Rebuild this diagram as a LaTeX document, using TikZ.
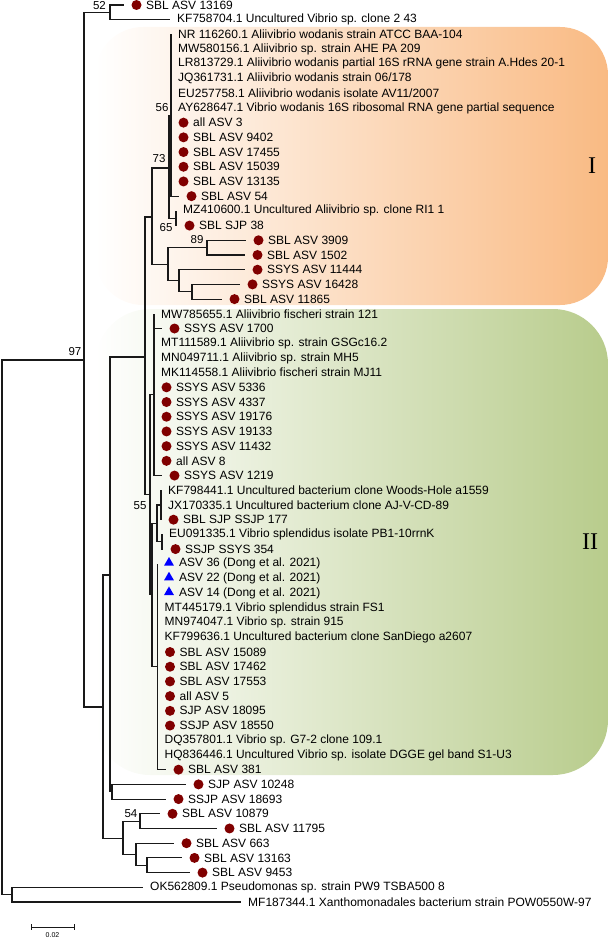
\documentclass[tikz,border=0pt]{standalone}
\usepackage{fontspec}
\setmainfont{Liberation Sans}
\newfontfamily\romfont{Liberation Serif}
\usetikzlibrary{shapes.geometric}
\definecolor{dotred}{RGB}{128,0,0}
\definecolor{orgR}{RGB}{249,186,131}
\definecolor{grnR}{RGB}{184,204,140}
\definecolor{triblue}{RGB}{0,0,255}
\definecolor{brc}{RGB}{25,25,25}
\newcommand\labfont{\fontsize{12}{13}\selectfont}
\newcommand\bsfont{\fontsize{11.5}{12}\selectfont}
\newcommand\cladefont{\romfont\fontsize{24}{26}\selectfont}
\newcommand\leafT[4]{\coordinate (#1) at ({#2},{ry(#3)}); \node[lt] (#1t) at ([xshift=7pt]#1) {#4};}
\newcommand\leafD[4]{\coordinate (#1) at ({#2},{ry(#3)}); \node[dotn] (#1d) at ([xshift=12.5pt]#1) {}; \node[lt] (#1t) at ([xshift=22pt]#1) {#4};}
\newcommand\leafA[4]{\coordinate (#1) at ({#2},{ry(#3)}); \node[trin] (#1d) at ([xshift=11.5pt,yshift=1pt]#1) {}; \node[lt] (#1t) at ([xshift=21.5pt]#1) {#4};}
\begin{document}
\begin{tikzpicture}[x=1pt,y=-1pt,
  declare function={ry(\i)=5+14.705*(\i-1);},
  br/.style={draw=brc,line width=1.15pt},
  lt/.style={anchor=west,inner sep=0pt,font=\labfont,text=black},
  dotn/.style={circle,fill=dotred,minimum size=10pt,inner sep=0pt},
  trin/.style={regular polygon,regular polygon sides=3,fill=triblue,minimum size=11.5pt,inner sep=0pt},
  bs/.style={font=\bsfont,inner sep=0pt},
  clab/.style={font=\cladefont,inner sep=0pt}]
\useasboundingbox (0,0) rectangle (608,942);
% clade highlight boxes
\shade[left color=white,right color=orgR,rounded corners=48pt] (95,27) rectangle (608,305);
\shade[left color=white,right color=grnR,rounded corners=55pt] (95,309) rectangle (608,775);
\node[clab] (cI) at (592,166) {I};
\node[clab] (cII) at (590,542) {II};
% internal nodes
\coordinate (nR0) at (2,627);
\coordinate (nA) at (84,360);
\coordinate (nB) at (110,12.4);
\coordinate (nC) at (103,707);
\coordinate (nD) at (110,575);
\coordinate (nF) at (145,357);
\coordinate (nK) at (152,217);
\coordinate (nL) at (169,168);
\coordinate (nN) at (171,115.3);
\coordinate (nO) at (176,218.3);
\coordinate (nM) at (168,264.5);
\coordinate (nP) at (207,247.7);
\coordinate (nQ) at (179,280.8);
\coordinate (nR) at (192,291.8);
\coordinate (nS) at (150,494.8);
\coordinate (nT) at (154,394.7);
\coordinate (nV) at (152,594.8);
\coordinate (nW) at (157,523.1);
\coordinate (nX) at (161,505);
\coordinate (nY) at (162,541.8);
\coordinate (nZ) at (157.5,666.7);
\coordinate (nG) at (112,791.8);
\coordinate (nE) at (123,838.5);
\coordinate (nH) at (140,821.2);
\coordinate (nI) at (136,854.3);
\coordinate (nJ) at (147,865.3);
\coordinate (nOG) at (12,894.6);
% leaves
\leafD{l1}{124}{1}{SBL ASV 13169}
\leafT{l2}{170}{2}{KF758704.1 Uncultured Vibrio sp. clone 2 43}
\leafT{l3}{171}{3}{NR 116260.1 Aliivibrio wodanis strain ATCC BAA-104}
\leafT{l4}{171}{4}{MW580156.1 Aliivibrio sp. strain AHE PA 209}
\leafT{l5}{171}{5}{LR813729.1 Aliivibrio wodanis partial 16S rRNA gene strain A.Hdes 20-1}
\leafT{l6}{171}{6}{JQ361731.1 Aliivibrio wodanis strain 06/178}
\leafT{l7}{171}{7}{EU257758.1 Aliivibrio wodanis isolate AV11/2007}
\leafT{l8}{171}{8}{AY628647.1 Vibrio wodanis 16S ribosomal RNA gene partial sequence}
\leafD{l9}{171}{9}{all ASV 3}
\leafD{l10}{171}{10}{SBL ASV 9402}
\leafD{l11}{171}{11}{SBL ASV 17455}
\leafD{l12}{171}{12}{SBL ASV 15039}
\leafD{l13}{171}{13}{SBL ASV 13135}
\leafD{l14}{179}{14}{SBL ASV 54}
\leafT{l15}{176}{15}{MZ410600.1 Uncultured Aliivibrio sp. clone RI1 1}
\leafD{l16}{177}{16}{SBL SJP 38}
\leafD{l17}{246}{17}{SBL ASV 3909}
\leafD{l18}{245}{18}{SBL ASV 1502}
\leafD{l19}{245}{19}{SSYS ASV 11444}
\leafD{l20}{240}{20}{SSYS ASV 16428}
\leafD{l21}{222}{21}{SBL ASV 11865}
\leafT{l22}{154}{22}{MW785655.1 Aliivibrio fischeri strain 121}
\leafD{l23}{162}{23}{SSYS ASV 1700}
\leafT{l24}{154}{24}{MT111589.1 Aliivibrio sp. strain GSGc16.2}
\leafT{l25}{154}{25}{MN049711.1 Aliivibrio sp. strain MH5}
\leafT{l26}{154}{26}{MK114558.1 Aliivibrio fischeri strain MJ11}
\leafD{l27}{154}{27}{SSYS ASV 5336}
\leafD{l28}{154}{28}{SSYS ASV 4337}
\leafD{l29}{154}{29}{SSYS ASV 19176}
\leafD{l30}{154}{30}{SSYS ASV 19133}
\leafD{l31}{154}{31}{SSYS ASV 11432}
\leafD{l32}{154}{32}{all ASV 8}
\leafD{l33}{162}{33}{SSYS ASV 1219}
\leafT{l34}{161}{34}{KF798441.1 Uncultured bacterium clone Woods-Hole a1559}
\leafT{l35}{161}{35}{JX170335.1 Uncultured bacterium clone AJ-V-CD-89}
\leafD{l36}{161}{36}{SBL SJP SSJP 177}
\leafT{l37}{162}{37}{EU091335.1 Vibrio splendidus isolate PB1-10rrnK}
\leafD{l38}{163}{38}{SSJP SSYS 354}
\leafA{l39}{157.5}{39}{ASV 36 (Dong et al. 2021)}
\leafA{l40}{157.5}{40}{ASV 22 (Dong et al. 2021)}
\leafA{l41}{157.5}{41}{ASV 14 (Dong et al. 2021)}
\leafT{l42}{157.5}{42}{MT445179.1 Vibrio splendidus strain FS1}
\leafT{l43}{157.5}{43}{MN974047.1 Vibrio sp. strain 915}
\leafT{l44}{157.5}{44}{KF799636.1 Uncultured bacterium clone SanDiego a2607}
\leafD{l45}{157.5}{45}{SBL ASV 15089}
\leafD{l46}{157.5}{46}{SBL ASV 17462}
\leafD{l47}{157.5}{47}{SBL ASV 17553}
\leafD{l48}{157.5}{48}{all ASV 5}
\leafD{l49}{157.5}{49}{SJP ASV 18095}
\leafD{l50}{157.5}{50}{SSJP ASV 18550}
\leafT{l51}{157.5}{51}{DQ357801.1 Vibrio sp. G7-2 clone 109.1}
\leafT{l52}{157.5}{52}{HQ836446.1 Uncultured Vibrio sp. isolate DGGE gel band S1-U3}
\leafD{l53}{166}{53}{SBL ASV 381}
\leafD{l54}{186}{54}{SJP ASV 10248}
\leafD{l55}{166}{55}{SSJP ASV 18693}
\leafD{l56}{160}{56}{SBL ASV 10879}
\leafD{l57}{217}{57}{SBL ASV 11795}
\leafD{l58}{174}{58}{SBL ASV 663}
\leafD{l59}{182}{59}{SBL ASV 13163}
\leafD{l60}{190}{60}{SBL ASV 9453}
\leafT{l61}{143}{61}{OK562809.1 Pseudomonas sp. strain PW9 TSBA500 8}
\leafT{l62}{241}{62}{MF187344.1 Xanthomonadales bacterium strain POW0550W-97}
% branches
\draw[br] (nR0) |- (nA); \draw[br] (nR0) |- (nOG);
\draw[br] (nA) |- (nB); \draw[br] (nA) |- (nC);
\draw[br] (nB) |- (l1); \draw[br] (nB) |- (l2);
\draw[br] (nC) |- (nD); \draw[br] (nC) |- (nE);
\draw[br] (nD) |- (nF); \draw[br] (nD) |- (nG);
\draw[br] (nF) |- (nK); \draw[br] (nF) |- (nS);
\draw[br] (nK) |- (nL); \draw[br] (nK) |- (nM);
\draw[br] (nL) |- (nN); \draw[br] (nL) |- (nO);
\foreach \k in {3,...,14} {\draw[br] (nN) |- (l\k);}
\draw[br] (nO) |- (l15); \draw[br] (nO) |- (l16);
\draw[br] (nM) |- (nP); \draw[br] (nM) |- (nQ);
\draw[br] (nP) |- (l17); \draw[br] (nP) |- (l18);
\draw[br] (nQ) |- (l19); \draw[br] (nQ) |- (nR);
\draw[br] (nR) |- (l20); \draw[br] (nR) |- (l21);
\draw[br] (nS) |- (nT); \draw[br] (nS) |- (nV);
\foreach \k in {22,...,33} {\draw[br] (nT) |- (l\k);}
\draw[br] (nV) |- (nW); \draw[br] (nV) |- (nZ);
\draw[br] (nW) |- (nX); \draw[br] (nW) |- (nY);
\foreach \k in {34,35,36} {\draw[br] (nX) |- (l\k);}
\draw[br] (nY) |- (l37); \draw[br] (nY) |- (l38);
\foreach \k in {39,...,53} {\draw[br] (nZ) |- (l\k);}
\draw[br] (nG) |- (l54); \draw[br] (nG) |- (l55);
\draw[br] (nE) |- (nH); \draw[br] (nE) |- (nI);
\draw[br] (nH) |- (l56); \draw[br] (nH) |- (l57);
\draw[br] (nI) |- (l58); \draw[br] (nI) |- (nJ);
\draw[br] (nJ) |- (l59); \draw[br] (nJ) |- (l60);
\draw[br] (nOG) |- (l61); \draw[br] (nOG) |- (l62);
% bootstrap values
\node[bs] (b52) at (99.5,6) {52};
\node[bs] (b56) at (162,108) {56};
\node[bs] (b73) at (159,159) {73};
\node[bs] (b65) at (166,228) {65};
\node[bs] (b89) at (197,240) {89};
\node[bs] (b97) at (75,352) {97};
\node[bs] (b55) at (140,506) {55};
\node[bs] (b54) at (131,814) {54};
% scale bar
\coordinate (sb1) at (31,927);
\coordinate (sb2) at (74,927);
\draw[br,line width=1pt] (sb1) -- (sb2);
\draw[br,line width=1pt] ([yshift=3pt]sb1) -- ([yshift=-3pt]sb1);
\draw[br,line width=1pt] ([yshift=3pt]sb2) -- ([yshift=-3pt]sb2);
\node[inner sep=0pt,font=\fontsize{7}{8}\selectfont] (sbl) at (52.5,935.5) {0.02};
\end{tikzpicture}
\end{document}
